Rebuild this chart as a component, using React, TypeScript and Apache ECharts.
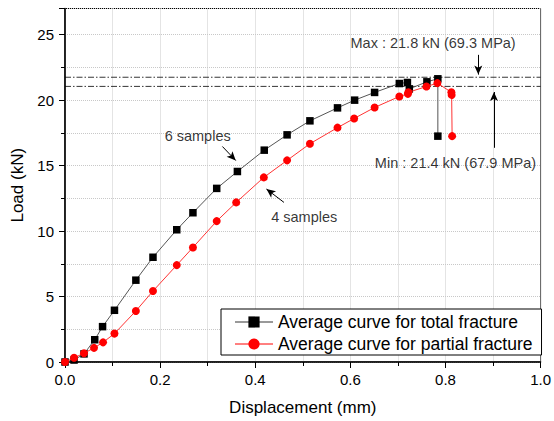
import React, { useEffect, useRef } from "react";
import * as echarts from "echarts";

const totalFracture: [number, number][] = [
  [0, 0], [0.019, 0.15], [0.04, 0.62], [0.0625, 1.7], [0.079, 2.7], [0.104, 3.95],
  [0.149, 6.25], [0.185, 8.0], [0.235, 10.1], [0.269, 11.4], [0.319, 13.26],
  [0.3625, 14.55], [0.419, 16.18], [0.467, 17.35], [0.515, 18.42], [0.573, 19.41],
  [0.609, 20.0], [0.651, 20.59], [0.703, 21.27], [0.72, 21.35], [0.724, 20.86],
  [0.761, 21.4], [0.784, 21.63], [0.784, 17.25],
];

const partialFracture: [number, number][] = [
  [0, 0], [0.019, 0.32], [0.04, 0.67], [0.061, 1.08], [0.08, 1.5], [0.104, 2.17],
  [0.149, 3.9], [0.185, 5.42], [0.235, 7.4], [0.269, 8.75], [0.319, 10.76],
  [0.36, 12.19], [0.418, 14.1], [0.467, 15.4], [0.515, 16.67], [0.573, 17.9],
  [0.608, 18.6], [0.651, 19.44], [0.703, 20.28], [0.721, 20.48], [0.722, 20.6],
  [0.76, 21.04], [0.783, 21.3], [0.8125, 20.6], [0.813, 20.4], [0.814, 17.25],
];

const maxLine: [number, number][] = [[0, 21.75], [1, 21.75]];
const minLine: [number, number][] = [[0, 21.05], [1, 21.05]];

const annotationTexts = [
  { name: "Max : 21.8 kN (69.3 MPa)", value: [0.774, 24.37] },
  { name: "Min : 21.4 kN (67.9 MPa)", value: [0.821, 15.22] },
  { name: "6 samples", value: [0.279, 17.28] },
  { name: "4 samples", value: [0.503, 11.1] },
];

const arrows: [number, number][][] = [
  [[0.869, 23.46], [0.869, 21.95]],
  [[0.902, 16.36], [0.902, 20.62]],
  [[0.331, 16.46], [0.359, 15.39]],
  [[0.4604, 12.19], [0.4236, 13.21]],
];

const seriesNames = ["Average curve for total fracture", "Average curve for partial fracture"];

const FONT = "'Liberation Sans', Arial, sans-serif";

export default function App() {
  const ref = useRef<HTMLDivElement>(null);
  useEffect(() => {
    if (!ref.current) return;
    const chart = echarts.init(ref.current, null, { renderer: "svg" });
    const dashDot = { color: "#000", width: 0.8, type: [6, 2, 1.5, 2] as number[] };
    chart.setOption({
      animation: false,
      textStyle: { fontFamily: FONT },
      grid: {
        left: 65, right: 8, top: 8.5, bottom: 58.5,
        show: true, borderColor: "#000", borderWidth: 1,
      },
      xAxis: {
        type: "value", min: 0, max: 1, interval: 0.2,
        name: "Displacement (mm)", nameLocation: "middle", nameGap: 37,
        nameTextStyle: { fontSize: 17, color: "#000", fontFamily: FONT },
        axisLine: { show: true, lineStyle: { color: "#000", width: 1.5 } },
        axisTick: { show: true, inside: false, length: 6, lineStyle: { color: "#000" } },
        minorTick: { show: true, splitNumber: 2, length: 4, lineStyle: { color: "#000" } },
        axisLabel: {
          fontSize: 15, color: "#000", margin: 10, fontFamily: FONT,
          formatter: (v: number) => v.toFixed(1),
        },
        splitLine: { show: true, lineStyle: { color: "#c8c8c8", type: "dotted", width: 1 } },
        minorSplitLine: { show: true, lineStyle: { color: "#c8c8c8", type: "dotted", width: 1 } },
      },
      yAxis: {
        type: "value", min: 0, max: 27, interval: 5,
        name: "Load (kN)", nameLocation: "middle", nameGap: 38, nameRotate: 90,
        nameTextStyle: { fontSize: 17, color: "#000", fontFamily: FONT },
        axisLine: { show: true, lineStyle: { color: "#000", width: 1.5 } },
        axisTick: { show: true, inside: false, length: 6, lineStyle: { color: "#000" } },
        minorTick: { show: true, splitNumber: 2, length: 4, lineStyle: { color: "#000" } },
        axisLabel: { fontSize: 15, color: "#000", margin: 11, fontFamily: FONT, showMaxLabel: false },
        splitLine: { show: true, lineStyle: { color: "#c8c8c8", type: "dotted", width: 1 } },
        minorSplitLine: { show: true, lineStyle: { color: "#c8c8c8", type: "dotted", width: 1 } },
      },
      legend: {
        left: 221, top: 309,
        orient: "vertical",
        backgroundColor: "#fff",
        borderColor: "#000", borderWidth: 1,
        padding: [3, 9, 1, 13],
        itemWidth: 38, itemHeight: 14, itemGap: 2,
        textStyle: { fontSize: 17.5, lineHeight: 20, color: "#000", fontFamily: FONT },
        data: [
          { name: seriesNames[0], lineStyle: { color: "#999", width: 2 } },
          { name: seriesNames[1], lineStyle: { color: "#ff0000", width: 1 } },
        ],
      },
      series: [
        {
          name: "maxLine", type: "line", data: maxLine, symbol: "none", silent: true,
          lineStyle: dashDot, z: 1,
        },
        {
          name: "minLine", type: "line", data: minLine, symbol: "none", silent: true,
          lineStyle: dashDot, z: 1,
        },
        {
          name: seriesNames[0], type: "line", data: totalFracture,
          symbol: "rect", symbolSize: 7.5,
          itemStyle: { color: "#000" },
          lineStyle: { color: "#555", width: 1 },
          z: 3,
        },
        {
          name: seriesNames[1], type: "line", data: partialFracture,
          symbol: "circle", symbolSize: 8,
          itemStyle: { color: "#ff0000" },
          lineStyle: { color: "#ff3333", width: 1 },
          z: 4,
        },
        {
          name: "arrows", type: "line", data: [], silent: true,
          markLine: {
            silent: true, animation: false,
            symbol: ["none", "arrow"], symbolSize: [6, 9],
            lineStyle: { color: "#000", width: 1, type: "solid" },
            label: { show: false },
            data: arrows.map(([a, b]) => [{ coord: a }, { coord: b }]),
          },
        },
        {
          name: "annotations", type: "scatter", data: annotationTexts, silent: true,
          symbolSize: 1, itemStyle: { color: "rgba(0,0,0,0)" },
          label: {
            show: true, position: "inside", color: "#000", fontSize: 14.5, fontFamily: FONT,
            formatter: (p: any) => p.name,
          },
          z: 5,
        },
      ],
    });
    return () => chart.dispose();
  }, []);
  return (
    <div
      ref={ref}
      style={{ position: "fixed", left: 0, top: 0, width: 554, height: 421, background: "#fff" }}
    />
  );
}
